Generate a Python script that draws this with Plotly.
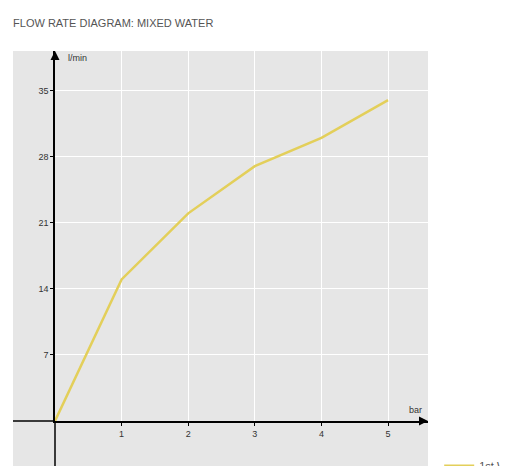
import plotly.graph_objects as go

pressure_bar = [0, 1, 2, 3, 4, 5]
flow_lpm = [0, 15, 22, 27, 30, 34]
x_ticks = [1, 2, 3, 4, 5]
y_ticks = [7, 14, 21, 28, 35]

fig = go.Figure(go.Scatter(
    x=pressure_bar, y=flow_lpm, mode="lines", name="1st Way",
    line=dict(color="#e3cf5a", width=2.5),
))

axis_font = dict(family="Liberation Sans, Arial", size=9, color="#333")
fig.update_layout(
    width=508, height=466,
    margin=dict(l=47, r=88, t=43, b=53, autoexpand=False),
    paper_bgcolor="white", plot_bgcolor="rgba(0,0,0,0)",
    title=dict(text="FLOW RATE DIAGRAM: MIXED WATER", x=0.01, y=0.975, automargin=False,
               xanchor="left", font=dict(family="Liberation Sans, Arial", size=11, color="#555")),
    xaxis=dict(range=[0, 5.6], tickvals=x_ticks, showgrid=True, gridcolor="white", gridwidth=1,
               zeroline=False, showline=True, linecolor="black", linewidth=1.5, automargin=False,
               ticks="outside", ticklen=3, tickcolor="black", tickfont=axis_font),
    yaxis=dict(range=[0, 39.2], tickvals=y_ticks, showgrid=True, gridcolor="white", gridwidth=1,
               zeroline=False, showline=True, linecolor="black", linewidth=1.5, automargin=False,
               ticks="outside", ticklen=3, tickcolor="black", tickfont=axis_font),
    showlegend=True,
    legend=dict(x=1.03, y=-0.16, xanchor="left", yanchor="bottom",
                font=dict(family="Liberation Sans, Arial", size=11, color="#555")),
    shapes=[
        dict(type="rect", xref="paper", yref="paper", x0=-42/373, x1=1, y0=-45/370, y1=1,
             fillcolor="#e6e6e6", line=dict(width=0), layer="below"),
        dict(type="line", xref="paper", yref="paper", x0=-42/373, x1=0, y0=0, y1=0,
             line=dict(color="black", width=1.5)),
        dict(type="line", xref="paper", yref="paper", x0=0, x1=0, y0=-45/370, y1=0,
             line=dict(color="black", width=1.5)),
    ],
    annotations=[
        dict(x=0, y=1.0, xref="paper", yref="paper", ax=0, ay=10, showarrow=True,
             arrowhead=2, arrowsize=1.2, arrowwidth=1.5, arrowcolor="black", text=""),
        dict(x=1.0, y=0, xref="paper", yref="paper", ax=-10, ay=0, showarrow=True,
             arrowhead=2, arrowsize=1.2, arrowwidth=1.5, arrowcolor="black", text=""),
        dict(x=0.03, y=1.0, xref="paper", yref="paper", text="l/min", showarrow=False,
             xanchor="left", yanchor="top", font=axis_font),
        dict(x=0.99, y=0.01, xref="paper", yref="paper", text="bar", showarrow=False,
             xanchor="right", yanchor="bottom", font=axis_font),
    ],
)
fig.write_html("out.html")
